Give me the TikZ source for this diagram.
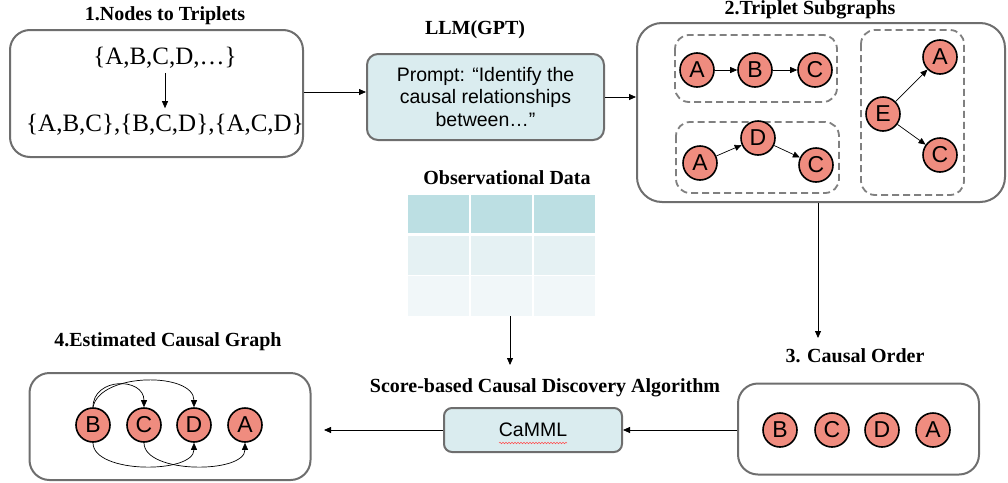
\documentclass[tikz,border=0pt]{standalone}
\usepackage{fontspec}
\setmainfont{Liberation Serif}
\setsansfont{Liberation Sans}
\usetikzlibrary{arrows.meta,decorations.pathmorphing}
\definecolor{panelgray}{HTML}{6E6E6E}
\definecolor{boxblue}{HTML}{DAECEF}
\definecolor{nodered}{HTML}{EF8C7F}
\definecolor{tabA}{HTML}{BCDFE3}
\definecolor{tabB}{HTML}{E5F1F3}
\definecolor{tabC}{HTML}{F1F7F9}
\begin{document}
\begin{tikzpicture}[x=1pt,y=-1pt,
  title/.style={font=\fontsize{20}{22}\selectfont\bfseries, inner sep=0pt},
  panel/.style={draw=panelgray, line width=2pt, rounded corners=20pt, fill=white, inner sep=0pt},
  bluebox/.style={draw=panelgray, line width=2pt, rounded corners=11pt, fill=boxblue, inner sep=0pt, align=center, font=\sffamily\fontsize{19.5}{22.5}\selectfont},
  dbox/.style={draw=gray, line width=1.8pt, dash pattern=on 7pt off 4pt, rounded corners=14pt},
  var/.style={circle, draw=black, line width=1.6pt, fill=nodered, minimum size=34pt, inner sep=0pt, font=\sffamily\fontsize{23}{23}\selectfont},
  settext/.style={font=\fontsize{25}{27}\selectfont, inner sep=0pt},
  arr/.style={-{Triangle[length=7pt,width=6pt]}, line width=0.8pt, black},
  sarr/.style={-{Triangle[length=7pt,width=6pt]}, line width=0.7pt, black}
]
\useasboundingbox (0,0) rectangle (1008,482);

% ---------- Panel 1 ----------
\node[title] (t1) at (165,16) {1.Nodes to Triplets};
\node[panel, minimum width=293pt, minimum height=127pt] (p1) at (156.5,93.5) {};
\node[settext] (s1) at (165,58) {\{A,B,C,D,\ldots\}};
\node[settext] (s2) at (165,125) {\{A,B,C\},\{B,C,D\},\{A,C,D\}};
\draw[sarr] ([yshift=-4pt]s1.south) -- ([yshift=6pt]s2.north);

% ---------- LLM ----------
\node[title] (tl) at (475,30) {LLM(GPT)};
\node[bluebox, minimum width=237pt, minimum height=86pt] (llm) at (485.5,97) {Prompt: “Identify the\\causal relationships\\between…”};

% ---------- Panel 2 ----------
\node[title] (t2) at (810,10) {2.Triplet Subgraphs};
\node[panel, minimum width=368pt, minimum height=179pt, rounded corners=25pt] (p2) at (821,112.5) {};
\draw[dbox] (675,35) rectangle (837,102);
\draw[dbox] (676,122) rectangle (839,193);
\draw[dbox] (861,30) rectangle (964,195);
\node[var] (a1) at (697,70) {A};
\node[var] (b1) at (755,70) {B};
\node[var] (c1) at (815,70) {C};
\node[var] (a2) at (700,163) {A};
\node[var] (d2) at (758,138) {D};
\node[var] (c2) at (816,165) {C};
\node[var] (e3) at (883,114) {E};
\node[var] (a3) at (940,57) {A};
\node[var] (c3) at (940,155) {C};
\draw[sarr] (a1) -- (b1);
\draw[sarr] (b1) -- (c1);
\draw[sarr] (a2) -- (d2);
\draw[sarr] (d2) -- (c2);
\draw[sarr] (e3) -- (a3);
\draw[sarr] (e3) -- (c3);

% ---------- Observational data ----------
\node[title] (to) at (507,178) {Observational Data};
\fill[tabA] (408,195) rectangle (595,233);
\fill[tabB] (408,236) rectangle (595,275);
\fill[tabC] (408,276) rectangle (595,316);
\draw[white, line width=1.5pt] (470,195) -- (470,316) (533,195) -- (533,316) (408,275.5) -- (595,275.5);
\coordinate (tab) at (510,316);

% ---------- Panel 3 ----------
\node[title] (t3) at (855,356) {3. Causal Order};
\node[panel, minimum width=241pt, minimum height=91pt] (p3) at (858.5,429) {};
\node[var] (b4) at (780,430) {B};
\node[var] (c4) at (832,430) {C};
\node[var] (d4) at (882,430) {D};
\node[var] (a4) at (933,430) {A};

% ---------- CaMML ----------
\node[title] (tc) at (545,388) {Score-based Causal Discovery Algorithm};
\node[bluebox, minimum width=178pt, minimum height=44pt, rounded corners=8pt] (cam) at (533,430) {CaMML};
\draw[red!70, line width=0.5pt, decorate, decoration={snake, amplitude=0.8pt, segment length=3pt}] (499,443) -- (567,443);

% ---------- Panel 4 ----------
\node[title] (t4) at (168,342) {4.Estimated Causal Graph};
\node[panel, minimum width=281pt, minimum height=107pt] (p4) at (170,426.5) {};
\node[var] (b5) at (93,425) {B};
\node[var] (c5) at (144,425) {C};
\node[var] (d5) at (194,425) {D};
\node[var] (a5) at (245,425) {A};
\draw[sarr] (b5.north) .. controls (93,377) and (144,377) .. (c5.north);
\draw[sarr] (b5.north) .. controls (100,372) and (194,372) .. (d5.north);
\draw[sarr] (b5.south) .. controls (93,474) and (194,474) .. (d5.south);
\draw[sarr] (c5.south) .. controls (144,474) and (245,474) .. (a5.south);

% ---------- Main connectors ----------
\draw[arr] (p1.east |- 0,92) coordinate (x1) -- (x1 -| llm.west);
\draw[arr] (llm.east) -- (llm.east -| p2.west);
\coordinate (e3c) at (818,338);
\draw[arr] (e3c |- p2.south) -- (e3c);
\coordinate (etab) at (510,365);
\draw[arr] (tab) -- (etab);
\draw[arr] (p3.west |- cam.east) -- (cam.east);
\coordinate (e4) at (324,430);
\draw[arr] (cam.west) -- (e4);
\end{tikzpicture}
\end{document}
